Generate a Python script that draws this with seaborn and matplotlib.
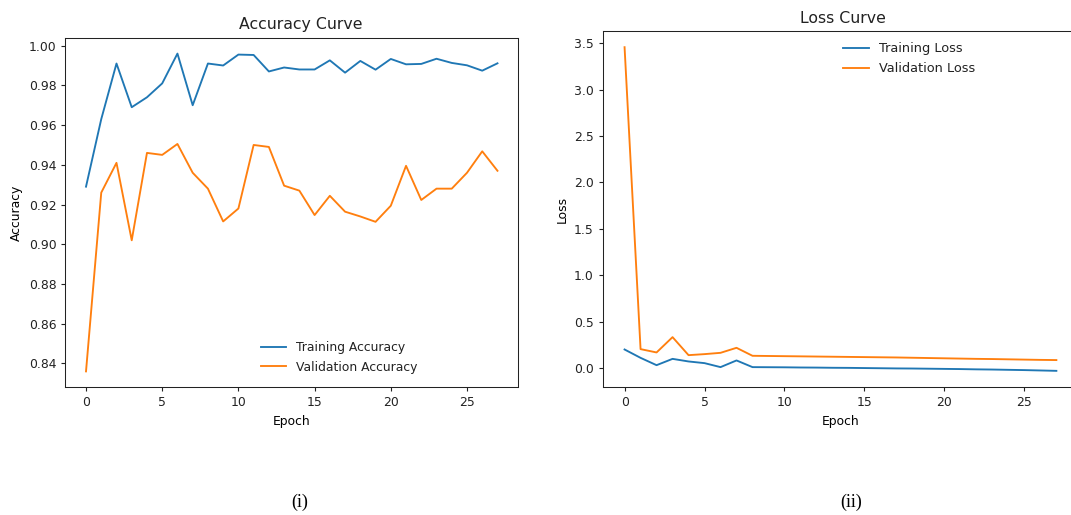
import matplotlib
matplotlib.use("Agg")
import matplotlib.pyplot as plt
import seaborn as sns
import numpy as np

# Per-epoch training history
epochs = list(range(28))

train_acc = [0.929, 0.963, 0.991, 0.969, 0.974, 0.981, 0.996, 0.970, 0.991, 0.990,
             0.9955, 0.9953, 0.987, 0.989, 0.988, 0.988, 0.9926, 0.9864, 0.9923, 0.9879,
             0.9933, 0.9906, 0.9908, 0.9934, 0.9913, 0.9901, 0.9874, 0.9911]
val_acc = [0.836, 0.926, 0.941, 0.902, 0.946, 0.945, 0.9505, 0.936, 0.928, 0.9115,
           0.918, 0.950, 0.949, 0.9295, 0.927, 0.9147, 0.9244, 0.9164, 0.914, 0.9113,
           0.9194, 0.9395, 0.9223, 0.928, 0.928, 0.936, 0.9468, 0.937]

train_loss = [0.201, 0.111, 0.032, 0.100, 0.072, 0.054, 0.011, 0.083, 0.011, 0.010,
              0.009, 0.007, 0.006, 0.004, 0.003, 0.001, -0.001, -0.003, -0.004, -0.006,
              -0.008, -0.010, -0.013, -0.015, -0.018, -0.021, -0.025, -0.029]
val_loss = [3.457, 0.205, 0.169, 0.334, 0.140, 0.151, 0.165, 0.219, 0.133, 0.131,
            0.129, 0.127, 0.125, 0.123, 0.121, 0.119, 0.117, 0.115, 0.112, 0.109,
            0.106, 0.103, 0.100, 0.098, 0.095, 0.092, 0.089, 0.087]

panel_labels = ["(i)", "(ii)"]

BLUE = "#1f77b4"
ORANGE = "#ff7f0e"
FS = 8.9
LW = 1.35

plt.rcParams.update({
    "font.family": ["DejaVu Sans"],
    "font.size": FS,
    "xtick.labelsize": FS,
    "ytick.labelsize": FS,
    "axes.labelsize": FS,
    "axes.titlesize": 11.3,
    "xtick.major.size": 3.1,
    "ytick.major.size": 3.1,
    "axes.linewidth": 0.75,
    "text.color": "#222222",
    "xtick.color": "#222222",
    "ytick.color": "#222222",
    "axes.edgecolor": "#222222",
})

fig = plt.figure(figsize=(10.71, 5.15), dpi=100)
ax1 = fig.add_axes([0.0611, 0.2480, 0.4226, 0.6788])
ax2 = fig.add_axes([0.5630, 0.2485, 0.4435, 0.6913])

# Accuracy panel
sns.lineplot(x=epochs, y=train_acc, ax=ax1, color=BLUE, lw=LW, label="Training Accuracy")
sns.lineplot(x=epochs, y=val_acc, ax=ax1, color=ORANGE, lw=LW, label="Validation Accuracy")
ax1.set_title("Accuracy Curve", x=0.52)
ax1.set_xlabel("Epoch")
ax1.set_ylabel("Accuracy")
ax1.set_xticks([0, 5, 10, 15, 20, 25])
ax1.set_yticks(np.arange(0.84, 1.001, 0.02))
ax1.yaxis.set_major_formatter(matplotlib.ticker.FormatStrFormatter("%.2f"))
ax1.legend(loc="lower left", bbox_to_anchor=(0.432, 0.039), frameon=False,
           borderaxespad=0, borderpad=0, fontsize=FS)

# Loss panel
sns.lineplot(x=epochs, y=train_loss, ax=ax2, color=BLUE, lw=LW, label="Training Loss")
sns.lineplot(x=epochs, y=val_loss, ax=ax2, color=ORANGE, lw=LW, label="Validation Loss")
ax2.set_title("Loss Curve", x=0.505)
ax2.set_xlabel("Epoch")
ax2.set_ylabel("Loss")
ax2.set_xticks([0, 5, 10, 15, 20, 25])
ax2.legend(loc="upper left", bbox_to_anchor=(0.505, 0.968), frameon=False,
           borderaxespad=0, borderpad=0, fontsize=9.3, labelspacing=0.55)

# Panel captions below each chart
fig.text(300 / 1071, 1 - 502 / 515, panel_labels[0], ha="center", va="center",
         family=["Liberation Serif"], fontsize=13, color="black")
fig.text(851 / 1071, 1 - 502 / 515, panel_labels[1], ha="center", va="center",
         family=["Liberation Serif"], fontsize=13, color="black")

fig.savefig("out.png", dpi=100, facecolor="white")
